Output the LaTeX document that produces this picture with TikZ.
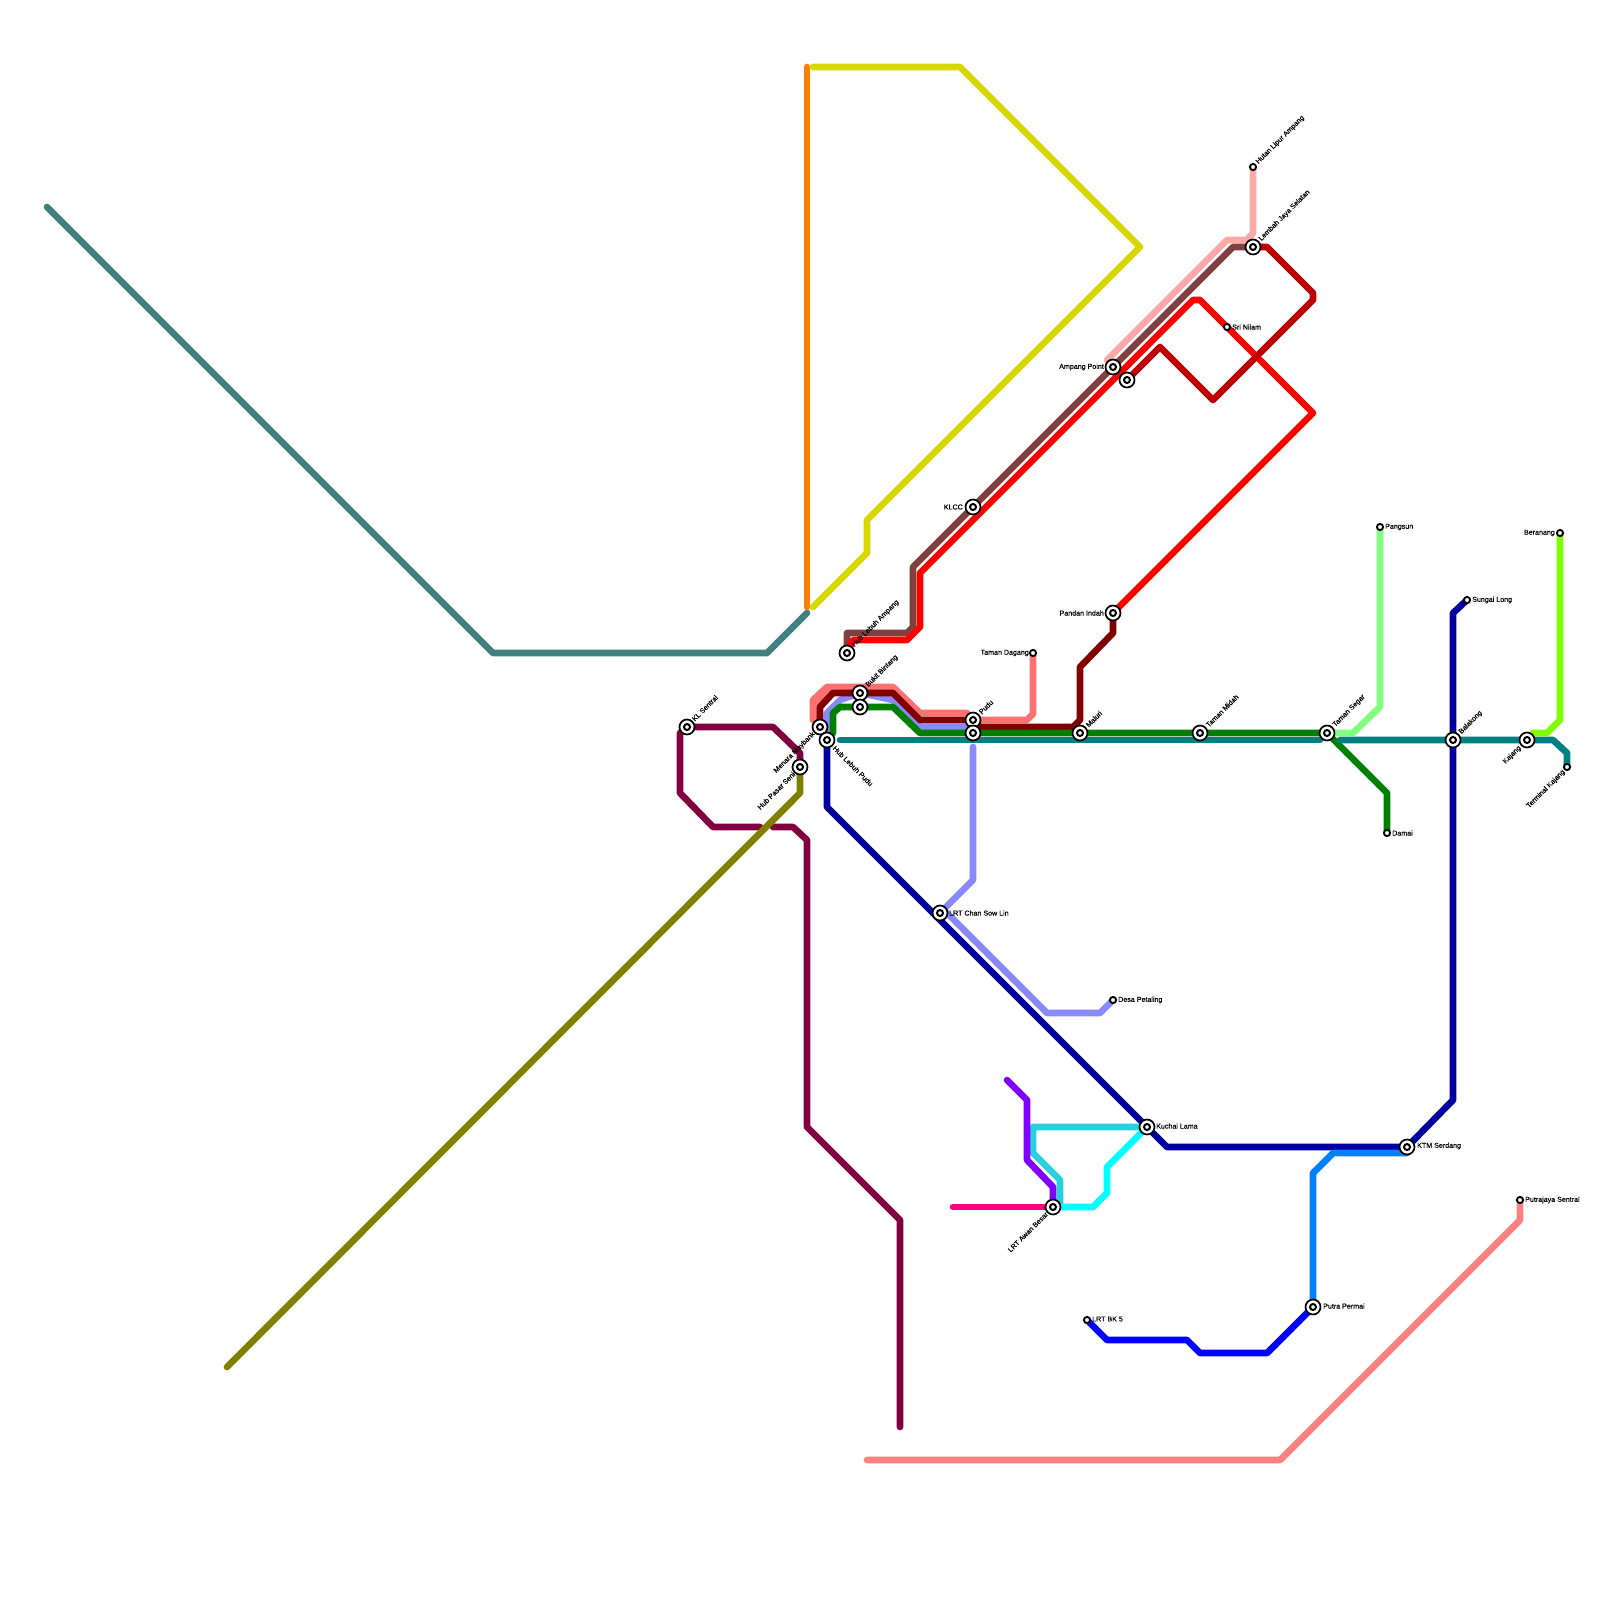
\documentclass[tikz,border=0pt]{standalone}
\usepackage{fontspec}
\setmainfont{Liberation Sans}[FakeBold=0.35]
\pgfdeclarelayer{lines}
\pgfsetlayers{lines,main}
\definecolor{cTealGrey}{HTML}{408080}
\definecolor{cOrange}{HTML}{FF8000}
\definecolor{cYellow}{HTML}{D8D800}
\definecolor{cPlum}{HTML}{800040}
\definecolor{cOlive}{HTML}{808000}
\definecolor{cBrown}{HTML}{804040}
\definecolor{cRed}{HTML}{FF0000}
\definecolor{cCrimson}{HTML}{C00000}
\definecolor{cPink}{HTML}{FFA8A8}
\definecolor{cSalmon}{HTML}{FF7070}
\definecolor{cMaroon}{HTML}{800000}
\definecolor{cPeri}{HTML}{8888FF}
\definecolor{cGreen}{HTML}{008000}
\definecolor{cTeal}{HTML}{008080}
\definecolor{cNavy}{HTML}{0000A0}
\definecolor{cMint}{HTML}{80FF80}
\definecolor{cLime}{HTML}{80FF00}
\definecolor{cAzure}{HTML}{0080FF}
\definecolor{cBlue}{HTML}{0000FF}
\definecolor{cCoral}{HTML}{FF8080}
\definecolor{cViolet}{HTML}{8000FF}
\definecolor{cTurq}{HTML}{28CFDC}
\definecolor{cCyan}{HTML}{00FFFF}
\definecolor{cRose}{HTML}{FF0080}
\tikzset{
  x=1pt,y=-1pt,
  bigst/.style={circle,draw=black,fill=white,line width=1.7pt,minimum size=15pt,inner sep=0pt,
    path picture={\draw[black,line width=2pt] (path picture bounding box.center) circle (3pt);}},
  smallst/.style={circle,draw=black,fill=white,line width=1.9pt,minimum size=6.2pt,inner sep=0pt},
  metro/.style={line width=6.67pt,line cap=round,line join=round},
  lab/.style={font=\fontsize{7.1pt}{8pt}\selectfont,text=black,inner sep=0pt},
  labr/.style={lab,anchor=west},
  labl/.style={lab,anchor=east},
  labup/.style={lab,anchor=west,rotate=45},
  labdn/.style={lab,anchor=east,rotate=45},
  labse/.style={lab,anchor=west,rotate=-45}
}
\begin{document}
\begin{tikzpicture}
\useasboundingbox (0,0) rectangle (1600,1600);
% stations
\node[bigst] (kl) at (687,727) {};
\node[bigst] (pasar) at (800,767) {};
\node[bigst] (maybank) at (820,727) {};
\node[bigst] (pudulrt) at (827,740) {};
\node[bigst] (lampang) at (847,653) {};
\node[bigst] (bukit) at (860,693) {};
\node[bigst] (bukitb) at (860,707) {};
\node[bigst] (pudu) at (973,720) {};
\node[bigst] (pudub) at (973,733) {};
\node[bigst] (klcc) at (973,507) {};
\node[bigst] (maluri) at (1080,733) {};
\node[bigst] (pandan) at (1113,613) {};
\node[bigst] (ampang) at (1113,367) {};
\node[bigst] (ampangb) at (1127,380) {};
\node[bigst] (lembah) at (1253,247) {};
\node[bigst] (midah) at (1200,733) {};
\node[bigst] (segar) at (1327,733) {};
\node[bigst] (balakong) at (1453,740) {};
\node[bigst] (kajang) at (1527,740) {};
\node[bigst] (chan) at (940,913) {};
\node[bigst] (kuchai) at (1147,1127) {};
\node[bigst] (awan) at (1053,1207) {};
\node[bigst] (serdang) at (1407,1147) {};
\node[bigst] (permai) at (1313,1307) {};
\node[smallst] (hutan) at (1253,167) {};
\node[smallst] (nilam) at (1227,327) {};
\node[smallst] (dagang) at (1033,653) {};
\node[smallst] (pangsun) at (1380,527) {};
\node[smallst] (beranang) at (1560,533) {};
\node[smallst] (sungai) at (1467,600) {};
\node[smallst] (terminal) at (1567,767) {};
\node[smallst] (damai) at (1387,833) {};
\node[smallst] (desa) at (1113,1000) {};
\node[smallst] (bk5) at (1087,1320) {};
\node[smallst] (putrajaya) at (1520,1200) {};
% labels
\node[labup] (t1) at (693,720) {KL Sentral};
\node[labdn] (t2) at (794,773) {Hub Pasar Seni};
\node[labdn] (t3) at (814,733) {Menara Maybank};
\node[labse] (t4) at (834,747) {Hub Lebuh Pudu};
\node[labup] (t5) at (853,646) {Hub Lebuh Ampang};
\node[labup] (t6) at (867,686) {Bukit Bintang};
\node[labup] (t7) at (980,713) {Pudu};
\node[labl] (t8) at (963,507) {KLCC};
\node[labup] (t9) at (1087,726) {Maluri};
\node[labl] (t10) at (1104,613) {Pandan Indah};
\node[labl] (t11) at (1104,367) {Ampang Point};
\node[labup] (t12) at (1260,240) {Lembah Jaya Selatan};
\node[labup] (t13) at (1257,163) {Hutan Lipur Ampang};
\node[labr] (t14) at (1232,327) {Sri Nilam};
\node[labl] (t15) at (1029,653) {Taman Dagang};
\node[labup] (t16) at (1207,726) {Taman Midah};
\node[labup] (t17) at (1334,726) {Taman Segar};
\node[labup] (t18) at (1460,733) {Balakong};
\node[labdn] (t19) at (1520,747) {Kajang};
\node[labdn] (t20) at (1564,771) {Terminal Kajang};
\node[labr] (t21) at (1385,527) {Pangsun};
\node[labl] (t22) at (1555,533) {Beranang};
\node[labr] (t23) at (1472,600) {Sungai Long};
\node[labr] (t24) at (1392,833) {Damai};
\node[labr] (t25) at (949,913) {LRT Chan Sow Lin};
\node[labr] (t26) at (1118,1000) {Desa Petaling};
\node[labr] (t27) at (1156,1126) {Kuchai Lama};
\node[labr] (t28) at (1417,1146) {KTM Serdang};
\node[labr] (t29) at (1323,1306) {Putra Permai};
\node[labr] (t30) at (1092,1319) {LRT BK 5};
\node[labr] (t31) at (1525,1200) {Putrajaya Sentral};
\node[labdn] (t32) at (1047,1213) {LRT Awan Besar};
\begin{pgfonlayer}{lines}
\draw[metro,cTealGrey] (47,207) -- (493,653) -- (767,653) -- (807,613);
\draw[metro,cOrange] (807,67) -- (807,607);
\draw[metro,cYellow] (813,67) -- (960,67) -- (1140,247) -- (867,520) -- (867,553) -- (813,607);
\draw[metro,cPlum] (pasar.center) -- (800,753) -- (773,727) -- (kl.center) -- (680,733) -- (680,793) -- (713,827) -- (760,827);
\draw[metro,cPlum] (773,827) -- (793,827) -- (807,840) -- (807,1127) -- (900,1220) -- (900,1427);
\draw[metro,cOlive] (227,1367) -- (800,793) -- (pasar.center);
\draw[metro,cPink] (1107,360) -- (1227,240) -- (1247,240) -- (1253,233) -- (hutan.center);
\draw[metro,cBrown] (lampang.center) -- (847,633) -- (907,633) -- (913,627) -- (913,567) -- (klcc.center) -- (ampang.center) -- (1233,247) -- (lembah.center);
\draw[metro,cRed] (lampang.center) -- (853,640) -- (907,640) -- (920,627) -- (920,573) -- (1193,300) -- (1200,300) -- (nilam.center) -- (1313,413) -- (pandan.center);
\draw[metro,cCrimson] (ampangb.center) -- (1160,347) -- (1213,400) -- (1313,300) -- (1313,293) -- (1267,247) -- (lembah.center);
\draw[metro,cSalmon] (dagang.center) -- (1033,714) -- (1027,720) -- (980,720) -- (pudu.center) -- (967,713) -- (920,713) -- (893,687) -- (827,687) -- (813,700) -- (813,720) -- (817,720) -- (817,701) -- (829,690);
\draw[metro,cNavy] (pudulrt.center) -- (827,807) -- (kuchai.center) -- (1167,1147) -- (serdang.center) -- (1453,1100) -- (balakong.center) -- (1453,613) -- (sungai.center);
\draw[metro,cPeri] (pudulrt.center) -- (827,713) -- (840,700) -- (bukit.center) -- (893,700) -- (920,727) -- (967,727) -- (pudu.center);
\draw[metro,cPeri] (973,747) -- (973,880) -- (chan.center) -- (947,913) -- (1047,1013) -- (1100,1013) -- (desa.center);
\draw[metro,cMaroon] (maybank.center) -- (820,707) -- (833,693) -- (bukit.center) -- (893,693) -- (920,720) -- (pudu.center) -- (980,727) -- (1073,727) -- (1080,720) -- (1080,667) -- (1113,633) -- (pandan.center);
\draw[metro,cGreen] (833,733) -- (833,713) -- (840,707) -- (bukitb.center) -- (893,707) -- (920,733) -- (segar.center) -- (1387,793) -- (damai.center);
\draw[metro,cTeal] (840,740) -- (1320,740);
\draw[metro,cTeal] (1340,740) -- (balakong.center) -- (kajang.center) -- (1553,740) -- (1567,753) -- (terminal.center);
\draw[metro,cMint] (segar.center) -- (1353,733) -- (1380,707) -- (pangsun.center);
\draw[metro,cLime] (1533,733) -- (1547,733) -- (1560,720) -- (beranang.center);
\draw[metro,cAzure] (serdang.center) -- (1407,1153) -- (1333,1153) -- (1313,1173) -- (permai.center);
\draw[metro,cBlue] (bk5.center) -- (1107,1340) -- (1187,1340) -- (1200,1353) -- (1267,1353) -- (permai.center);
\draw[metro,cCoral] (867,1460) -- (1280,1460) -- (1520,1220) -- (putrajaya.center);
\draw[metro,cTurq] (kuchai.center) -- (1033,1127) -- (1033,1153) -- (1060,1180) -- (1060,1207);
\draw[metro,cViolet] (1007,1080) -- (1027,1100) -- (1027,1160) -- (1053,1187) -- (awan.center);
\draw[metro,cRose] (953,1207) -- (awan.center);
\draw[metro,cCyan] (awan.center) -- (1093,1207) -- (1107,1193) -- (1107,1167) -- (kuchai.center);
\end{pgfonlayer}
\end{tikzpicture}
\end{document}
